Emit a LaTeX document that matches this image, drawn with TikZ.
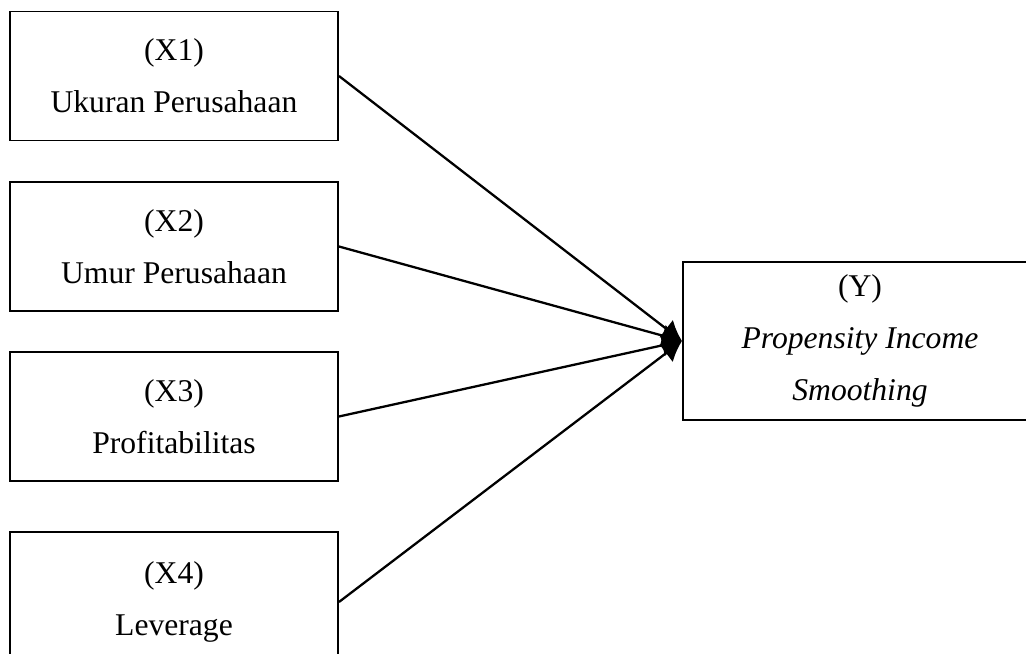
\documentclass[tikz,border=0pt]{standalone}
\usepackage{fontspec}
\setmainfont{Liberation Serif}
\usepackage{tikz}
\usetikzlibrary{arrows.meta,positioning}
\tikzset{
  varbox/.style={
    rectangle,
    draw=black,
    line width=1.1pt,
    minimum width=6.56cm,
    minimum height=2.58cm,
    align=center,
    font=\fontsize{18}{29.5}\selectfont
  },
  arrow/.style={
    -{Latex[length=4mm,width=4.5mm]},
    line width=1.3pt,
    draw=black
  }
}
\begin{document}
\begin{tikzpicture}
  \useasboundingbox (0,0) rectangle (20.52,-13.08);
  \node[varbox] (x1) at (3.48,-1.52) {(X1)\\Ukuran Perusahaan};
  \node[varbox] (x2) at (3.48,-4.93) {(X2)\\Umur Perusahaan};
  \node[varbox] (x3) at (3.48,-8.33) {(X3)\\Profitabilitas};
  \node[varbox,minimum height=2.8cm] (x4) at (3.48,-12.04) {(X4)\\Leverage};
  \node[varbox,minimum width=7.08cm,minimum height=3.16cm] (y) at (17.2,-6.82) {(Y)\\\textit{Propensity Income}\\\textit{Smoothing}};
  \draw[arrow] (x1.east) -- (y.west);
  \draw[arrow] (x2.east) -- (y.west);
  \draw[arrow] (x3.east) -- (y.west);
  \draw[arrow] (x4.east) -- (y.west);
\end{tikzpicture}
\end{document}
